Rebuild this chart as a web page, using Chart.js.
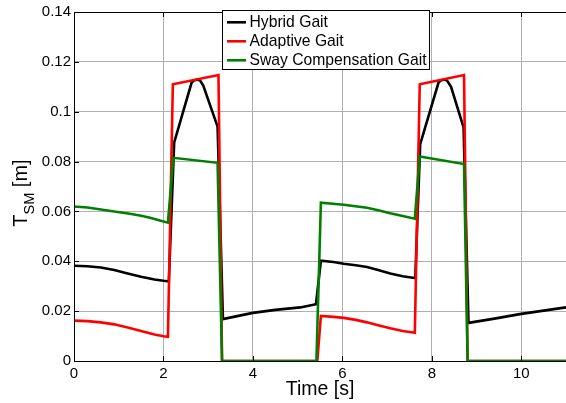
<!DOCTYPE html>
<html>
<head>
<meta charset="utf-8">
<script src="https://cdn.jsdelivr.net/npm/chart.js@4.4.1/dist/chart.umd.min.js"></script>
<style>
  html, body { margin: 0; padding: 0; background: #fff; }
  #wrap { width: 566px; height: 403px; }
</style>
</head>
<body>
<div id="wrap"><canvas id="c" width="566" height="403"></canvas></div>
<script>
// ---- data ----
const seriesNames = ['Hybrid Gait', 'Adaptive Gait', 'Sway Compensation Gait'];
const seriesColors = ['#000000', '#ff0000', '#008000'];

const hybridTime  = [0, 0.3, 0.6, 0.9, 1.2, 1.5, 1.8, 2.0, 2.1, 2.12, 2.24, 2.63, 2.68, 2.75, 2.82, 2.89, 3.21, 3.33, 3.7, 4.0, 4.5, 5.06, 5.41, 5.52, 5.8, 6.03, 6.3, 6.55, 6.8, 7.07, 7.35, 7.61, 7.63, 7.74, 8.15, 8.2, 8.27, 8.34, 8.43, 8.71, 8.82, 9.4, 10.0, 10.5, 11.0];
const hybridValue = [0.0382, 0.0380, 0.0375, 0.0365, 0.0351, 0.0338, 0.0327, 0.0322, 0.0320, 0.0320, 0.0877, 0.1117, 0.1125, 0.1129, 0.1125, 0.1105, 0.0940, 0.0168, 0.0182, 0.0193, 0.0205, 0.0215, 0.0228, 0.0402, 0.0397, 0.0390, 0.0384, 0.0377, 0.0365, 0.0351, 0.0340, 0.0333, 0.0333, 0.0870, 0.1117, 0.1125, 0.1129, 0.1125, 0.1100, 0.0937, 0.0153, 0.0170, 0.0189, 0.0202, 0.0215];

const adaptiveTime  = [0, 0.3, 0.6, 0.9, 1.2, 1.5, 1.8, 2.0, 2.1, 2.21, 3.23, 3.31, 5.44, 5.52, 5.8, 6.03, 6.3, 6.55, 6.8, 7.07, 7.35, 7.62, 7.73, 8.72, 8.8, 11.0];
const adaptiveValue = [0.0162, 0.0160, 0.0155, 0.0147, 0.0134, 0.0120, 0.0106, 0.0099, 0.0097, 0.1110, 0.1147, 0, 0, 0.0181, 0.0177, 0.0173, 0.0165, 0.0155, 0.0143, 0.0131, 0.0120, 0.0113, 0.1110, 0.1147, 0, 0];

const swayTime  = [0, 0.3, 0.6, 0.9, 1.25, 1.5, 1.7, 1.9, 2.1, 2.22, 3.21, 3.31, 5.42, 5.52, 6.03, 6.55, 6.8, 7.07, 7.35, 7.62, 7.73, 8.72, 8.8, 11.0];
const swayValue = [0.0620, 0.0616, 0.0608, 0.0600, 0.0591, 0.0583, 0.0575, 0.0565, 0.0555, 0.0815, 0.0795, 0, 0, 0.0635, 0.0627, 0.0615, 0.0605, 0.0593, 0.0582, 0.0571, 0.0820, 0.0790, 0, 0];

const xTicks = [0, 2, 4, 6, 8, 10];
const yTicks = [0, 0.02, 0.04, 0.06, 0.08, 0.1, 0.12, 0.14];
const xLabel = 'Time [s]';
const yLabelMain = 'T';
const yLabelSub = 'SM';
const yLabelTail = ' [m]';

// ---- chart ----
const FONT = "'Liberation Sans', Arial, Helvetica, sans-serif";
const toXY = (ts, vs) => ts.map((t, i) => ({ x: t, y: vs[i] }));

const allSeries = [
  toXY(hybridTime, hybridValue),
  toXY(adaptiveTime, adaptiveValue),
  toXY(swayTime, swayValue)
];

const datasets = allSeries.map((d, i) => ({
  label: seriesNames[i],
  data: d,
  borderColor: seriesColors[i],
  backgroundColor: seriesColors[i],
  borderWidth: 2.6,
  pointRadius: 0,
  tension: 0,
  fill: false,
  order: 3 - i
}));

const decorPlugin = {
  id: 'decor',
  afterDatasetsDraw(chart) {
    const ctx = chart.ctx;
    const a = chart.chartArea;
    const xs = chart.scales.x, ys = chart.scales.y;
    ctx.save();
    ctx.strokeStyle = '#000';
    ctx.lineWidth = 1;
    ctx.beginPath();
    ctx.moveTo(a.left + 0.5, a.bottom + 0.5);
    ctx.lineTo(a.left + 0.5, a.top + 0.5);
    ctx.lineTo(a.right, a.top + 0.5);
    ctx.moveTo(a.left + 0.5, a.bottom + 0.5);
    ctx.lineTo(a.right, a.bottom + 0.5);
    ctx.stroke();
    ctx.beginPath();
    xTicks.forEach(t => {
      const px = Math.round(xs.getPixelForValue(t)) + 0.5;
      ctx.moveTo(px, a.bottom); ctx.lineTo(px, a.bottom - 5);
      ctx.moveTo(px, a.top); ctx.lineTo(px, a.top + 5);
    });
    yTicks.forEach(v => {
      const py = Math.round(ys.getPixelForValue(v)) + 0.5;
      ctx.moveTo(a.left, py); ctx.lineTo(a.left + 5, py);
    });
    ctx.stroke();
    ctx.restore();
  },
  afterDraw(chart) {
    const ctx = chart.ctx;
    const a = chart.chartArea;
    ctx.save();
    const bx = 222.5, by = 10.5, bw = 207, bh = 59;
    ctx.fillStyle = '#fff';
    ctx.fillRect(bx, by, bw, bh);
    ctx.strokeStyle = '#000';
    ctx.lineWidth = 1;
    ctx.strokeRect(bx, by, bw, bh);
    ctx.font = '15.7px ' + FONT;
    ctx.textBaseline = 'alphabetic';
    ctx.textAlign = 'left';
    seriesNames.forEach((name, i) => {
      const cy = 22.3 + i * 19;
      ctx.strokeStyle = seriesColors[i];
      ctx.lineWidth = 2.6;
      ctx.beginPath();
      ctx.moveTo(227, cy); ctx.lineTo(246, cy);
      ctx.stroke();
      ctx.fillStyle = '#000';
      ctx.fillText(name, 249.5, cy + 4.4);
    });
    ctx.font = '19.5px ' + FONT;
    ctx.textAlign = 'center';
    ctx.fillStyle = '#000';
    ctx.fillText(xLabel, (a.left + a.right) / 2, 395);
    ctx.translate(27, 193);
    ctx.rotate(-Math.PI / 2);
    ctx.textAlign = 'left';
    const fMain = '20px ' + FONT, fSub = '14.5px ' + FONT;
    ctx.font = fMain; const wT = ctx.measureText(yLabelMain).width;
    ctx.font = fSub; const wS = ctx.measureText(yLabelSub).width;
    ctx.font = fMain; const wR = ctx.measureText(yLabelTail).width;
    let x0 = -(wT + wS + wR) / 2;
    ctx.font = fMain; ctx.fillText(yLabelMain, x0, 0);
    ctx.font = fSub; ctx.fillText(yLabelSub, x0 + wT, 7);
    ctx.font = fMain; ctx.fillText(yLabelTail, x0 + wT + wS, 0);
    ctx.restore();
  }
};

new Chart(document.getElementById('c'), {
  type: 'line',
  data: { datasets },
  options: {
    responsive: false,
    devicePixelRatio: 1,
    animation: false,
    layout: { padding: { top: 12, right: 0, left: 0, bottom: 0 } },
    plugins: { legend: { display: false }, tooltip: { enabled: false } },
    scales: {
      x: {
        type: 'linear',
        min: 0, max: 11,
        afterBuildTicks: s => { s.ticks = xTicks.map(v => ({ value: v })); },
        afterFit: s => { s.height = 42; },
        border: { display: false },
        grid: { color: '#b0b0b0', lineWidth: 1, drawTicks: false, borderDash: [1, 2] },
        ticks: {
          padding: 4,
          color: '#000',
          font: { family: FONT, size: 15 },
          maxRotation: 0,
          callback: v => String(v)
        }
      },
      y: {
        type: 'linear',
        min: 0, max: 0.14,
        afterBuildTicks: s => { s.ticks = yTicks.map(v => ({ value: v })); },
        afterFit: s => { s.width = 74; },
        border: { display: false },
        grid: { color: '#b0b0b0', lineWidth: 1, drawTicks: false, borderDash: [1, 2] },
        ticks: {
          padding: 3,
          color: '#000',
          font: { family: FONT, size: 15 },
          callback: v => String(Number(Number(v).toFixed(2)))
        }
      }
    }
  },
  plugins: [decorPlugin]
});
</script>
</body>
</html>
